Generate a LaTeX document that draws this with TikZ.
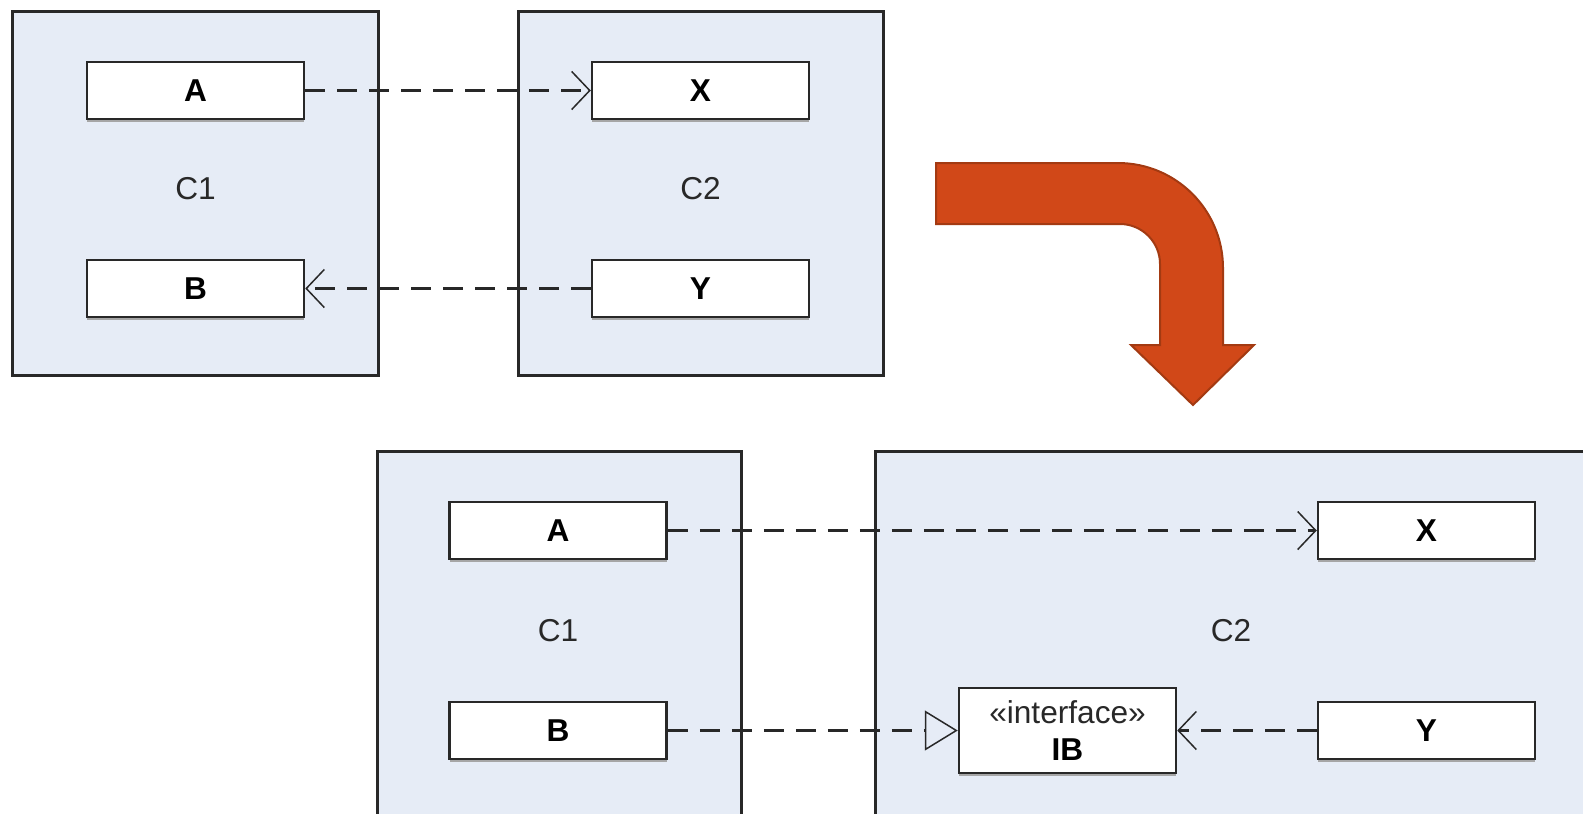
\documentclass[tikz,border=0pt]{standalone}
\usepackage{fontspec}
\setmainfont{Liberation Sans}
\usetikzlibrary{arrows.meta,shadows}
\definecolor{boxblue}{RGB}{230,236,246}
\definecolor{edgegray}{RGB}{40,40,40}
\definecolor{bendfill}{RGB}{209,72,24}
\definecolor{benddraw}{RGB}{163,58,18}
\tikzset{
	container/.style = {rectangle, draw = edgegray, line width = 0.6mm, fill = boxblue},
	part/.style = {rectangle, draw = edgegray, line width = 0.5mm, fill = white,
		minimum width = 43.4mm, minimum height = 11.4mm,
		font = \fontsize{18}{21}\selectfont\bfseries,
		drop shadow = {shadow xshift = 0mm, shadow yshift = -0.5mm, fill = gray!70, opacity = 1}},
	tag/.style = {font = \fontsize{18}{21}\selectfont, text = edgegray},
	dep/.style = {draw = edgegray, line width = 0.55mm, dash pattern = on 4mm off 2.4mm,
		-{Straight Barb[length = 3.6mm, width = 7.6mm, line width = 0.3mm]}},
	real/.style = {draw = edgegray, line width = 0.55mm, dash pattern = on 4mm off 2.4mm,
		-{Triangle[open, length = 6.6mm, width = 8mm, line width = 0.3mm]}}
}
\begin{document}
\begin{tikzpicture}[x = 0.2mm, y = -0.2mm]
\clip (0,0) rectangle (1583,813);
% before
\node[container, minimum width = 73mm, minimum height = 72.8mm] (c1) at (195.5,193) {};
\node[container, minimum width = 73mm, minimum height = 72.8mm] (c2) at (700.5,193) {};
\node[tag] (c1name) at (195.5,189) {C1};
\node[tag] (c2name) at (700.5,189) {C2};
\node[part] (a1) at (195.5,90.5) {A};
\node[part] (b1) at (195.5,288.5) {B};
\node[part] (x1) at (700.5,90.5) {X};
\node[part] (y1) at (700.5,288.5) {Y};
\draw[dep] (a1) -- (x1);
\draw[dep] (y1) -- (b1);
% bend
\filldraw[fill = bendfill, draw = benddraw, line width = 0.4mm]
	(936,163) -- (1118,163) .. controls (1176,163) and (1223,210) .. (1223,268)
	-- (1223,345) -- (1254,345) -- (1193,405) -- (1131,345) -- (1160,345)
	-- (1160,264) .. controls (1160,242) and (1142,224) .. (1120,224)
	-- (936,224) -- cycle;
% after
\node[container, minimum width = 72.8mm, minimum height = 80mm] (d1) at (559,651) {};
\node[container, minimum width = 145mm, minimum height = 80mm] (d2) at (1237.5,651) {};
\node[tag] (d1name) at (558,631) {C1};
\node[tag] (d2name) at (1231,631) {C2};
\node[part] (a2) at (558,530.5) {A};
\node[part] (b2) at (558,730.5) {B};
\node[part] (x2) at (1426.5,530.5) {X};
\node[part] (y2) at (1426.5,730.5) {Y};
\node[part, minimum height = 17mm, align = center] (ib) at (1067.5,730.5)
	{{\mdseries\color{edgegray}«interface»}\\IB};
\draw[dep] (a2) -- (x2);
\draw[real] (b2) -- (ib);
\draw[dep] (y2) -- (ib);
\end{tikzpicture}
\end{document}
